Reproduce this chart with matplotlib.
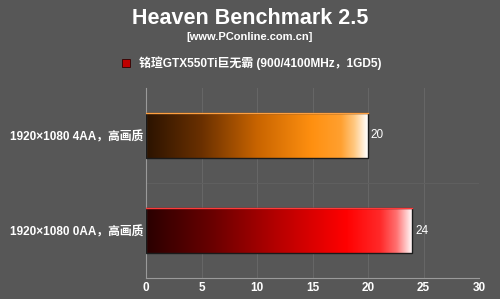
import numpy as np
import matplotlib
matplotlib.use("Agg")
import matplotlib.pyplot as plt
from matplotlib.colors import LinearSegmentedColormap
from matplotlib.patches import Rectangle

plt.rcParams['font.family'] = ['Liberation Sans', 'Noto Sans CJK SC', 'DejaVu Sans']

title = "Heaven Benchmark 2.5"
subtitle = "[www.PConline.com.cn]"
series_name = "铭瑄GTX550Ti巨无霸 (900/4100MHz，1GD5)"
categories = ["1920×1080 0AA，高画质", "1920×1080 4AA，高画质"]
values = [24, 20]
xticks = [0, 5, 10, 15, 20, 25, 30]

bg = "#575757"
cmaps = [
    LinearSegmentedColormap.from_list("red", [(0, "#2a0000"), (0.25, "#6a0000"), (0.5, "#b80000"),
                                              (0.75, "#ff0000"), (0.88, "#ff2a2a"), (0.94, "#ff7070"),
                                              (1.0, "#ffffff")]),
    LinearSegmentedColormap.from_list("orange", [(0, "#2b1300"), (0.25, "#6a3000"), (0.5, "#c86400"),
                                                 (0.75, "#ff9010"), (0.88, "#ffa030"), (0.94, "#ffc880"),
                                                 (1.0, "#ffffff")]),
]
edge_top = ["#ff3a3a", "#ffa040"]

fig = plt.figure(figsize=(5.0, 2.99), dpi=100, facecolor=bg)
ax = fig.add_axes([146/500, 1 - 278/299, (479-146)/500, (278-88)/299])
ax.set_facecolor(bg)

y = np.arange(len(categories))
h = 0.48
bars = ax.barh(y, values, height=h, color="none", edgecolor="#1a1a1a", linewidth=1.0, zorder=3)
grad = np.linspace(0, 1, 256).reshape(1, -1)
for i, (b, v) in enumerate(zip(bars, values)):
    im = ax.imshow(grad, cmap=cmaps[i], aspect="auto", extent=[0, v, y[i] - h/2, y[i] + h/2],
                   zorder=2, interpolation="bicubic")
    im.set_clip_path(b)
    ax.plot([0, v], [y[i] + h/2, y[i] + h/2], color=edge_top[i], lw=1.0, zorder=4)
    ax.text(v + 0.25, y[i], str(v), color="white", fontsize=8.5, va="center", ha="left",
            family=['Liberation Sans', 'DejaVu Sans'])

ax.set_xlim(0, 30)
ax.set_ylim(-0.5, 1.5)
ax.set_xticks(xticks)
ax.set_xticklabels([str(t) for t in xticks], color="white", fontsize=8.5, fontweight="bold")
ax.set_yticks(y)
ax.set_yticklabels(categories, color="white", fontsize=8.5, fontweight="bold")
ax.tick_params(axis="both", length=0, pad=3)
ax.tick_params(axis="y", pad=2)
for t in xticks:
    ax.axvline(t, color="#666666", lw=0.8, zorder=1)
ax.axhline(0.5, color="#5f5f5f", lw=0.8, zorder=1)
for s in ["top", "right"]:
    ax.spines[s].set_visible(False)
ax.spines["left"].set_color("#9a9a9a")
ax.spines["bottom"].set_color("#9a9a9a")

fig.text(0.5, 1 - 18/299, title, color="white", fontsize=15.5, fontweight="bold", ha="center", va="center")
fig.text(0.5, 1 - 37/299, subtitle, color="white", fontsize=8, fontweight="bold", ha="center", va="center")
fig.patches.append(Rectangle((122/500, 1 - 67/299), 8/500, 8/299, transform=fig.transFigure,
                             facecolor="#c00000", edgecolor="#300000", lw=0.6, figure=fig))
fig.text(139/500, 1 - 63/299, series_name, color="white", fontsize=8.6, fontweight="bold", ha="left", va="center")

fig.savefig("out.png", dpi=100, facecolor=bg)
